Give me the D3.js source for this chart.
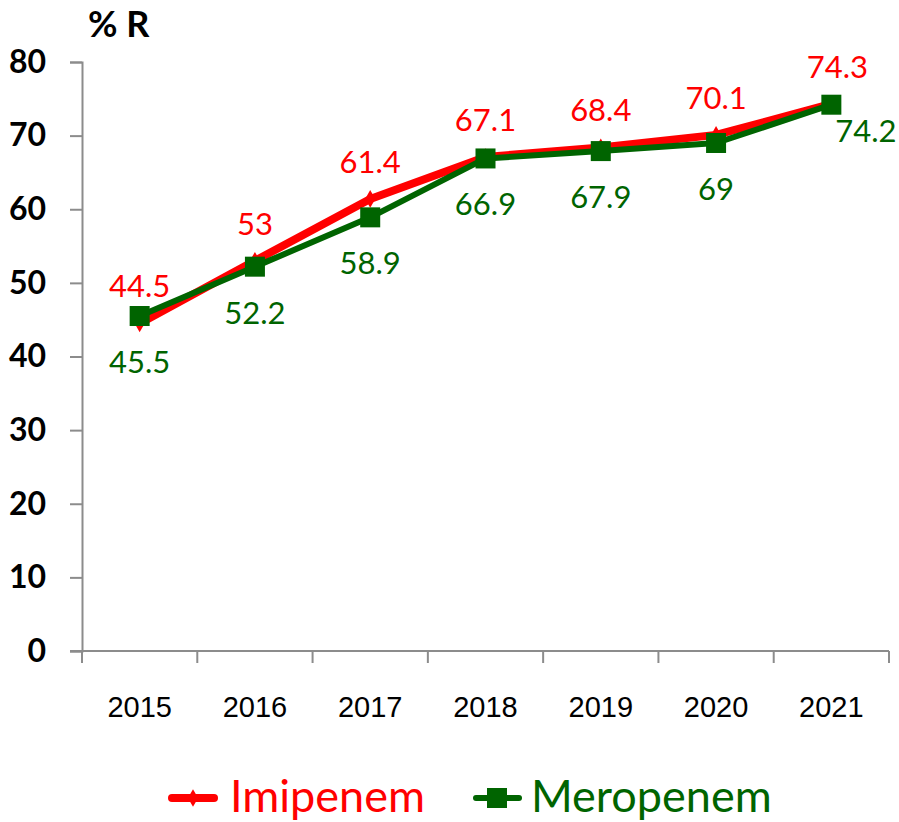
<!DOCTYPE html>
<html>
<head>
<meta charset="utf-8">
<script src="https://cdn.jsdelivr.net/npm/d3@7/dist/d3.min.js"></script>
<style>
  html, body { margin: 0; padding: 0; background: #fff; }
  svg { display: block; }
</style>
</head>
<body>
<svg id="chart" width="899" height="822"></svg>
<script>
// Resistance (%) by year
const years = ["2015", "2016", "2017", "2018", "2019", "2020", "2021"];
const imipenem = [44.5, 53, 61.4, 67.1, 68.4, 70.1, 74.3];
const meropenem = [45.5, 52.2, 58.9, 66.9, 67.9, 69, 74.2];
const yTicks = [0, 10, 20, 30, 40, 50, 60, 70, 80];

const RED = "#ff0000";
const GREEN = "#006400";
const AXIS = "#8c8c8c";

const svg = d3.select("#chart");
const plotLeft = 82, plotRight = 889, plotTop = 62, plotBottom = 651;

const x = d3.scaleBand().domain(years).range([plotLeft, plotRight]).padding(0);
const y = d3.scaleLinear().domain([0, 80]).range([plotBottom, plotTop]);
const cx = d => x(d) + x.bandwidth() / 2;
const last = years.length - 1;

// Y axis
const yAxis = svg.append("g").attr("transform", `translate(${plotLeft},0)`)
  .call(d3.axisLeft(y).tickValues(yTicks).tickSize(12).tickPadding(24).tickFormat(d3.format("d")));
yAxis.select(".domain").attr("stroke", AXIS).attr("stroke-width", 2);
yAxis.selectAll(".tick line").attr("stroke", AXIS).attr("stroke-width", 2);
yAxis.selectAll(".tick text")
  .attr("font-family", "Lato, 'Open Sans', sans-serif")
  .attr("font-weight", "bold").attr("font-size", 32).attr("fill", "#000");

// X axis: ticks at the category boundaries
const xAxisG = svg.append("g").attr("transform", `translate(0,${plotBottom})`);
xAxisG.append("line").attr("x1", plotLeft - 12).attr("x2", plotRight)
  .attr("y1", 0).attr("y2", 0).attr("stroke", AXIS).attr("stroke-width", 2);
const bounds = years.map(d => x(d)).concat([plotRight]);
xAxisG.selectAll("line.tk").data(bounds).join("line").attr("class", "tk")
  .attr("x1", d => d).attr("x2", d => d).attr("y1", 0).attr("y2", 12)
  .attr("stroke", AXIS).attr("stroke-width", 2);
xAxisG.selectAll("text").data(years).join("text")
  .attr("x", d => cx(d)).attr("y", 66)
  .attr("text-anchor", "middle")
  .attr("font-family", "'Liberation Sans', Arial, sans-serif")
  .attr("font-size", 29).attr("fill", "#000").text(d => d);

// Axis title
svg.append("text").attr("x", 88).attr("y", 37)
  .attr("font-family", "Lato, 'Open Sans', sans-serif")
  .attr("font-weight", "bold").attr("font-size", 36).attr("fill", "#000").text("% R");

const line = d3.line().x((d, i) => cx(years[i])).y(d => y(d));
const diamond = d3.symbol(d3.symbolDiamond, 90)();

// Imipenem line + small diamond markers
svg.append("path").datum(imipenem).attr("d", line)
  .attr("fill", "none").attr("stroke", RED).attr("stroke-width", 8).attr("stroke-linejoin", "round");
svg.selectAll("path.imi").data(imipenem).join("path").attr("class", "imi")
  .attr("transform", (d, i) => `translate(${cx(years[i])},${y(d)})`)
  .attr("d", diamond).attr("fill", RED);

// Meropenem line + square markers
svg.append("path").datum(meropenem).attr("d", line)
  .attr("fill", "none").attr("stroke", GREEN).attr("stroke-width", 6).attr("stroke-linejoin", "round");
svg.selectAll("rect.mero").data(meropenem).join("rect").attr("class", "mero")
  .attr("x", (d, i) => cx(years[i]) - 10).attr("y", d => y(d) - 10)
  .attr("width", 20).attr("height", 20).attr("fill", GREEN);

// Data labels
const labelFont = "Lato, 'Open Sans', sans-serif";
svg.selectAll("text.limi").data(imipenem).join("text").attr("class", "limi")
  .attr("x", (d, i) => cx(years[i]) + (i === last ? 6 : 0)).attr("y", d => y(d) - 26)
  .attr("text-anchor", "middle").attr("font-family", labelFont)
  .attr("font-size", 31).attr("fill", RED).text(d => d);
svg.selectAll("text.lmero").data(meropenem).join("text").attr("class", "lmero")
  .attr("x", (d, i) => i === last ? cx(years[i]) + 4 : cx(years[i]))
  .attr("y", (d, i) => i === last ? y(d) + 37 : y(d) + 57)
  .attr("text-anchor", (d, i) => i === last ? "start" : "middle")
  .attr("font-family", labelFont)
  .attr("font-size", 31).attr("fill", GREEN).text(d => d);

// Legend
const lg = svg.append("g");
lg.append("line").attr("x1", 172).attr("x2", 214).attr("y1", 798).attr("y2", 798)
  .attr("stroke", RED).attr("stroke-width", 8).attr("stroke-linecap", "round");
lg.append("path").attr("transform", "translate(193,798)")
  .attr("d", diamond).attr("fill", RED);
lg.append("text").attr("x", 230).attr("y", 812).attr("font-family", labelFont)
  .attr("font-size", 45).attr("fill", RED).text("Imipenem");
lg.append("line").attr("x1", 476).attr("x2", 519).attr("y1", 798).attr("y2", 798)
  .attr("stroke", GREEN).attr("stroke-width", 6).attr("stroke-linecap", "round");
lg.append("rect").attr("x", 487).attr("y", 788).attr("width", 20).attr("height", 20).attr("fill", GREEN);
lg.append("text").attr("x", 531).attr("y", 812).attr("font-family", labelFont)
  .attr("font-size", 45).attr("fill", GREEN).text("Meropenem");
</script>
</body>
</html>
